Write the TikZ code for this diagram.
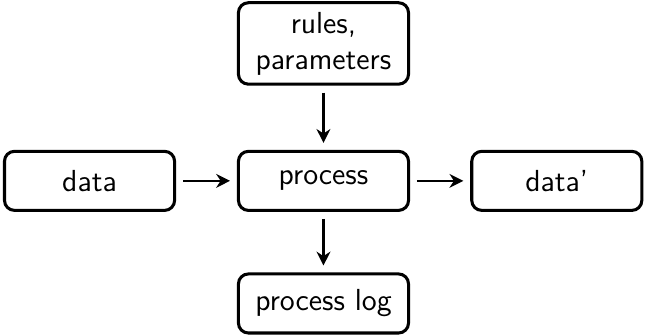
\documentclass[tikz,border=0pt]{standalone}
\usetikzlibrary{arrows.meta}

\tikzset{
  block/.style={draw, line width=1.1pt, rounded corners=3.6pt,
    minimum width=2.16cm, minimum height=0.75cm, align=center,
    font=\sffamily\fontsize{11}{13}\selectfont},
  flow/.style={-{Stealth[length=5pt,width=5pt]}, line width=0.8pt,
    shorten <=2.5pt, shorten >=2.5pt}
}

\begin{document}
\begin{tikzpicture}
        \useasboundingbox (0,0) rectangle (8.204,4.267);
        \node[block, minimum height=1.02cm] (rules) at(4.108, 3.715){rules,\\parameters};
        \node[block] (data) at(1.137, 1.97){data};
        \node[block] (process) at(4.108, 1.97){process};
        \node[block] (dataout) at(7.071, 1.97){data'};
        \node[block] (log) at(4.108, 0.413){process log};
        % arrows into and out of the process step
        \draw[flow] (data) -- (process);
        \draw[flow] (rules) -- (process);
        \draw[flow] (process) -- (dataout);
        \draw[flow] (process) -- (log);
\end{tikzpicture}
\end{document}
